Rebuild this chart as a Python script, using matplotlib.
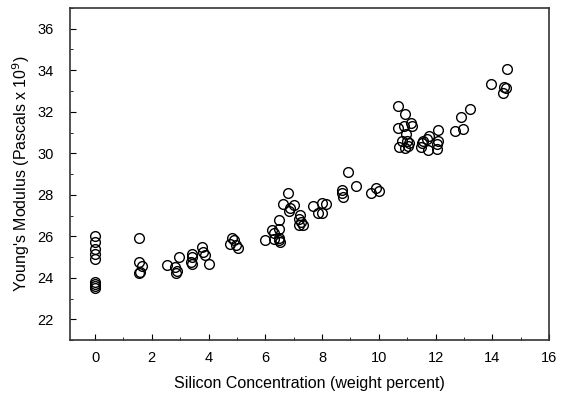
import numpy as np
import matplotlib
matplotlib.use('Agg')
import matplotlib.pyplot as plt
from matplotlib.ticker import MultipleLocator

plt.rcParams['font.family'] = ['Liberation Sans', 'DejaVu Sans']

# silicon concentration (weight percent) and Young's modulus (x 10^9 Pa)
silicon = [0, 0, 0, 0, 0, 0, 0, 0, 0,
           1.54, 1.54, 1.58, 1.67, 1.55,
           2.54, 2.81, 2.89, 2.86, 2.97,
           3.41, 3.41, 3.39, 3.42, 3.76, 3.82, 3.86, 4.0,
           4.83, 4.9, 4.76, 4.95, 5.05,
           5.99, 6.23, 6.29, 6.29, 6.47, 6.47, 6.49, 6.51, 6.47,
           6.8, 6.63, 7.02, 6.87, 6.82, 7.22, 7.17, 7.25, 7.19, 7.31,
           7.68, 8.01, 8.12, 7.84, 7.99,
           8.91, 9.18, 8.69, 8.69, 8.74, 9.71, 9.91, 10.0,
           10.68, 10.93, 11.13, 11.17, 10.68, 10.88, 10.97, 10.82, 11.0,
           10.7, 10.91, 11.03, 11.05,
           12.08, 11.75, 11.7, 12.08, 12.05, 11.52, 11.5, 11.73, 12.05, 11.57,
           12.67, 12.96, 12.9, 13.2,
           13.95, 14.41, 14.48, 14.39, 14.53]
modulus = [26.0, 25.75, 25.4, 25.15, 24.9, 23.8, 23.7, 23.6, 23.5,
           25.91, 24.77, 24.3, 24.57, 24.25,
           24.62, 24.5, 24.35, 24.22, 25.0,
           25.17, 25.0, 24.78, 24.67, 25.48, 25.23, 25.1, 24.66,
           25.91, 25.8, 25.65, 25.6, 25.42,
           25.81, 26.3, 26.18, 25.89, 26.37, 26.78, 25.91, 25.73, 25.82,
           28.07, 27.58, 27.52, 27.36, 27.2, 27.04, 26.83, 26.71, 26.55, 26.54,
           27.47, 27.6, 27.55, 27.12, 27.1,
           29.08, 28.44, 28.23, 28.07, 27.9, 28.08, 28.33, 28.16,
           32.27, 31.87, 31.44, 31.33, 31.2, 31.3, 30.93, 30.58, 30.6,
           30.29, 30.26, 30.37, 30.5,
           31.13, 30.85, 30.69, 30.61, 30.45, 30.48, 30.29, 30.16, 30.2, 30.6,
           31.08, 31.17, 31.73, 32.14,
           33.36, 33.18, 33.15, 32.9, 34.04]

fig = plt.figure(figsize=(5.65, 3.96), dpi=100)
ax = fig.add_axes([0.124, 0.141, 0.848, 0.839])

ax.plot(silicon, modulus, 'o', mfc='none', mec='black', ms=7, mew=1.0)

ax.set_xlim(-0.88, 16)
ax.set_ylim(21, 37)
ax.xaxis.set_major_locator(MultipleLocator(2))
ax.xaxis.set_minor_locator(MultipleLocator(1))
ax.yaxis.set_major_locator(MultipleLocator(2))
ax.yaxis.set_minor_locator(MultipleLocator(1))
ax.tick_params(which='both', direction='in', labelsize=10.5)
ax.tick_params(axis='x', pad=8)
ax.tick_params(axis='y', pad=12)
ax.tick_params(which='major', length=4)
ax.tick_params(which='minor', length=2)
for s in ax.spines.values():
    s.set_linewidth(1.2)
    s.set_color('#333333')

ax.set_xlabel('Silicon Concentration (weight percent)', fontsize=11.5, labelpad=7.5)
ax.set_ylabel("Young's Modulus (Pascals x 10$^9$)", fontsize=11.5)
ax.yaxis.set_label_coords(-0.08, 0.5)

fig.savefig('out.png', dpi=100)
